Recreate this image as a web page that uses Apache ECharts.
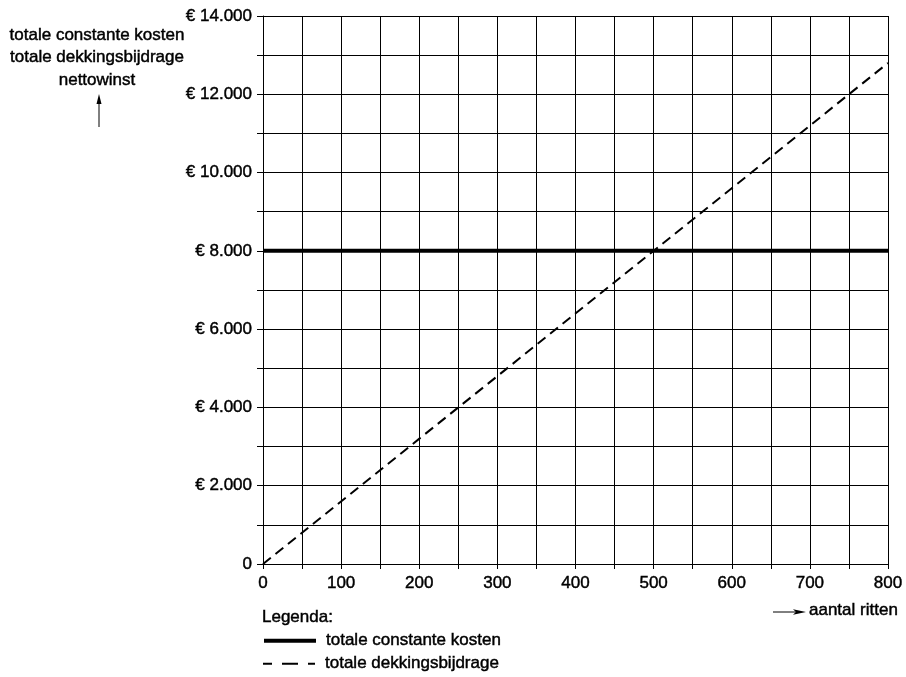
<!DOCTYPE html>
<html><head><meta charset="utf-8">
<script src="https://cdn.jsdelivr.net/npm/echarts@6/dist/echarts.min.js"></script>
<style>html,body{margin:0;padding:0;background:#fff}#c{width:906px;height:677px}</style>
</head><body><div id="c"></div>
<script>
const ritten = [0, 800];
const constanteKosten = [8000, 8000];
const dekkingsbijdrage = [0, 12800];
const seriesNames = ['totale constante kosten', 'totale dekkingsbijdrage'];
const yTitle = ['totale constante kosten', 'totale dekkingsbijdrage', 'nettowinst'];
const xTitle = 'aantal ritten';
const legendTitle = 'Legenda:';

const FONT = '"Liberation Sans", Arial, sans-serif';
const FS = 17;
const BW = 0.45;
const chart = echarts.init(document.getElementById('c'));
const fmt = v => v === 0 ? '0' : '€ ' + String(v).replace(/\B(?=(\d{3})+(?!\d))/g, '.');
const txt = {color: '#000', fontSize: FS, fontFamily: FONT, textBorderColor: '#000', textBorderWidth: BW};
const legendBase = {
  orient: 'horizontal', left: 262, itemWidth: 52, itemHeight: 4, padding: 0,
  textStyle: Object.assign({}, txt, {padding: [0, 0, 0, 5]}),
  itemStyle: {color: 'transparent', borderColor: 'transparent', borderWidth: 0},
  selectedMode: false
};
chart.setOption({
  animation: false,
  grid: {left: 263, right: 18, top: 16, bottom: 113},
  textStyle: {fontFamily: FONT},
  xAxis: {
    type: 'value', min: 0, max: 800, interval: 100,
    axisLine: {show: true, lineStyle: {color: '#000', width: 1}},
    axisTick: {show: true, length: 5, lineStyle: {color: '#000'}},
    minorTick: {show: true, splitNumber: 2, length: 5, lineStyle: {color: '#000'}},
    splitLine: {show: true, lineStyle: {color: '#000', width: 1}},
    minorSplitLine: {show: true, lineStyle: {color: '#000', width: 1}},
    axisLabel: Object.assign({margin: 11}, txt)
  },
  yAxis: {
    type: 'value', min: 0, max: 14000, interval: 2000,
    axisLine: {show: true, lineStyle: {color: '#000', width: 1}},
    axisTick: {show: true, length: 6, lineStyle: {color: '#000'}},
    minorTick: {show: true, splitNumber: 2, length: 6, lineStyle: {color: '#000'}},
    splitLine: {show: true, lineStyle: {color: '#000', width: 1}},
    minorSplitLine: {show: true, lineStyle: {color: '#000', width: 1}},
    axisLabel: Object.assign({margin: 11, formatter: fmt}, txt)
  },
  legend: [
    Object.assign({}, legendBase, {top: 632, data: [seriesNames[0]],
      lineStyle: {width: 4, color: '#000'}}),
    Object.assign({}, legendBase, {top: 655, data: [seriesNames[1]],
      lineStyle: {type: [9, 10, 16, 10, 9, 100], width: 2, color: '#000'}})
  ],
  series: [
    {name: seriesNames[0], type: 'line', showSymbol: false, symbol: 'none',
     data: ritten.map((x, i) => [x, constanteKosten[i]]),
     lineStyle: {color: '#000', width: 4}, itemStyle: {color: '#000'}},
    {name: seriesNames[1], type: 'line', showSymbol: false, symbol: 'none',
     data: ritten.map((x, i) => [x, dekkingsbijdrage[i]]),
     lineStyle: {color: '#000', width: 2, type: [10, 6]}, itemStyle: {color: '#000'}}
  ],
  graphic: [
    {type: 'text', x: 262, y: 609, style: {text: legendTitle, font: FS + 'px ' + FONT, fill: '#000', stroke: '#000', lineWidth: BW}},
    {type: 'text', x: 97, y: 24, style: {text: yTitle.join('\n'), font: FS + 'px ' + FONT, fill: '#000', stroke: '#000', lineWidth: BW, align: 'center', lineHeight: 22.5}},
    {type: 'line', shape: {x1: 99, y1: 127, x2: 99, y2: 100}, style: {stroke: '#000', lineWidth: 1}},
    {type: 'polygon', shape: {points: [[99, 94], [96.5, 104], [101.5, 104]]}, style: {fill: '#000'}},
    {type: 'line', shape: {x1: 773, y1: 612, x2: 796, y2: 612}, style: {stroke: '#000', lineWidth: 1}},
    {type: 'polygon', shape: {points: [[806, 612], [793, 609.3], [796, 612], [793, 614.7]]}, style: {fill: '#000'}},
    {type: 'text', x: 809, y: 610, style: {text: xTitle, font: FS + 'px ' + FONT, fill: '#000', stroke: '#000', lineWidth: BW, verticalAlign: 'middle'}}
  ]
});
</script></body></html>
